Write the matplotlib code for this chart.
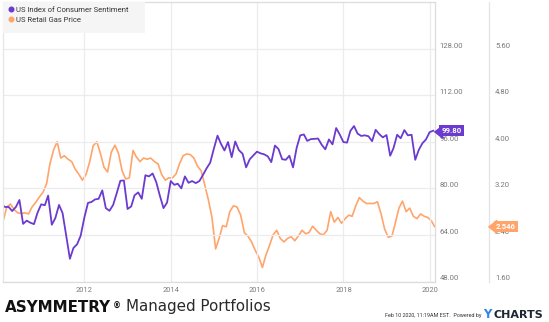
import matplotlib
matplotlib.use("Agg")
import matplotlib.pyplot as plt
import matplotlib.transforms as mtransforms
from matplotlib.lines import Line2D
from matplotlib.patches import Rectangle
import pandas as pd
import datetime as dt

# ---------------- data ----------------
sentiment_labels = "US Index of Consumer Sentiment"
gas_label = "US Retail Gas Price"

# University of Michigan consumer sentiment, monthly (Jan 2010 .. Jan 2020)
sentiment = [
    74.4, 73.6, 73.6, 72.2, 73.6, 76.0, 67.8, 68.9, 68.2, 67.7, 71.6, 74.5,   # 2010
    74.2, 77.5, 67.5, 69.8, 74.3, 71.5, 63.7, 55.8, 59.5, 60.8, 63.7, 69.9,   # 2011
    75.0, 75.3, 76.2, 76.4, 79.3, 73.2, 72.3, 74.3, 78.3, 82.6, 82.7, 72.9,   # 2012
    73.8, 77.6, 78.6, 76.4, 84.5, 84.1, 85.1, 82.1, 77.5, 73.2, 75.1, 82.5,   # 2013
    81.2, 81.6, 80.0, 84.1, 81.9, 82.5, 81.8, 82.5, 84.6, 86.9, 88.8, 93.6,   # 2014
    98.1, 95.4, 93.0, 95.9, 90.7, 96.1, 93.1, 91.9, 87.2, 90.0, 91.3, 92.6,   # 2015
    92.0, 91.7, 91.0, 89.0, 94.7, 93.5, 90.0, 89.8, 91.2, 87.2, 93.8, 98.2,   # 2016
    98.5, 96.3, 96.9, 97.0, 97.1, 95.0, 93.4, 96.8, 95.1, 100.7, 98.5, 95.9,  # 2017
    95.7, 99.7, 101.4, 98.8, 98.0, 98.2, 97.9, 96.2, 100.1, 98.6, 97.5, 98.3, # 2018
    91.2, 93.8, 98.4, 97.2, 100.0, 98.2, 98.4, 89.8, 93.2, 95.5, 96.8, 99.3,  # 2019
    99.8,                                                                     # 2020
]
sentiment_dates = pd.date_range("2010-01-31", periods=len(sentiment), freq="ME")

# US retail gas price (all grades), mid-month (Jan 2010 .. Jan 2020)
gas = [
    2.74, 2.66, 2.88, 2.93, 2.84, 2.78, 2.77, 2.78, 2.76, 2.88, 2.96, 3.05,   # 2010
    3.13, 3.28, 3.62, 3.86, 4.00, 3.72, 3.76, 3.70, 3.66, 3.53, 3.44, 3.34,   # 2011
    3.44, 3.66, 3.93, 4.00, 3.80, 3.56, 3.48, 3.82, 3.94, 3.80, 3.50, 3.36,   # 2012
    3.38, 3.85, 3.74, 3.66, 3.72, 3.70, 3.72, 3.66, 3.62, 3.44, 3.34, 3.38,   # 2013
    3.38, 3.45, 3.62, 3.76, 3.79, 3.78, 3.72, 3.58, 3.50, 3.26, 3.00, 2.70,   # 2014
    2.16, 2.35, 2.56, 2.54, 2.80, 2.90, 2.88, 2.74, 2.44, 2.38, 2.28, 2.14,   # 2015
    2.02, 1.84, 2.05, 2.22, 2.40, 2.48, 2.34, 2.28, 2.34, 2.37, 2.30, 2.38,   # 2016
    2.48, 2.42, 2.44, 2.55, 2.48, 2.42, 2.40, 2.48, 2.80, 2.62, 2.70, 2.60,   # 2017
    2.68, 2.74, 2.72, 2.90, 3.04, 2.98, 2.94, 2.94, 2.94, 2.97, 2.76, 2.50,   # 2018
    2.36, 2.38, 2.60, 2.86, 2.98, 2.80, 2.86, 2.72, 2.68, 2.76, 2.72, 2.70,   # 2019
    2.64,                                                                     # 2020
]
gas_last = 2.546
gas_dates = list(pd.date_range("2010-01-01", periods=len(gas), freq="MS") + pd.Timedelta(days=14))
gas_all = gas + [gas_last]
gas_dates_all = gas_dates + [pd.Timestamp("2020-02-10")]

left_ticks = [48, 64, 80, 96, 112, 128]
right_ticks = [1.60, 2.40, 3.20, 4.00, 4.80, 5.60]
year_ticks = [2012, 2014, 2016, 2018, 2020]

# ---------------- style ----------------
PURPLE = "#6b3ad0"
ORANGE = "#ffa46b"
GRID = "#ececec"
TICKC = "#7a7a7a"
FONT = "Roboto"

W, H = 549, 322
fig = plt.figure(figsize=(W / 100, H / 100), dpi=100)
fig.patch.set_facecolor("white")

ax_l, ax_r, ax_t, ax_b = 3, 434.5, 2, 281.5
ax = fig.add_axes([ax_l / W, 1 - ax_b / H, (ax_r - ax_l) / W, (ax_b - ax_t) / H])
ax2 = ax.twinx()

# gas price line (right scale)
ax2.plot(gas_dates_all, gas_all, color=ORANGE, lw=1.2, solid_joinstyle="round")
ax2.set_ylim(1.6, 6.4)
# sentiment line (left scale)
ax.plot(sentiment_dates, sentiment, color=PURPLE, lw=1.3, solid_joinstyle="round")
ax.set_ylim(48, 144)

ax.set_zorder(ax2.get_zorder() + 1)
ax.patch.set_visible(False)

ax.set_xlim(dt.datetime(2010, 2, 11), dt.datetime(2020, 2, 10))
ax.set_xticks([dt.datetime(y, 1, 1) for y in year_ticks])
ax.set_xticklabels([str(y) for y in year_ticks])
ax.tick_params(axis="x", length=0, pad=4, labelsize=5.4, labelcolor=TICKC)
for t in ax.get_xticklabels():
    t.set_fontfamily(FONT)

ax.grid(True, color=GRID, lw=0.9)
ax.set_axisbelow(True)

# sentiment ticks on the right, just outside plot
ax.yaxis.tick_right()
ax.set_yticks(left_ticks)
ax.set_yticklabels([f"{v:.2f}" for v in left_ticks])
ax.tick_params(axis="y", length=0, pad=3.5, labelsize=5.6, labelcolor=TICKC)
for t in ax.get_yticklabels():
    t.set_fontfamily(FONT)
    t.set_verticalalignment("bottom")

# gas ticks on an offset right axis
ax2.spines["right"].set_position(("axes", (489.5 - ax_l) / (ax_r - ax_l)))
ax2.spines["right"].set_color("#e4e4e4")
ax2.spines["right"].set_linewidth(0.9)
for s in ["top", "left", "bottom"]:
    ax2.spines[s].set_visible(False)
ax2.set_yticks(right_ticks)
ax2.set_yticklabels([f"{v:.2f}" for v in right_ticks])
ax2.tick_params(axis="y", length=0, pad=4, labelsize=5.6, labelcolor=TICKC)
for t in ax2.get_yticklabels():
    t.set_fontfamily(FONT)
    t.set_verticalalignment("bottom")

for s in ["top", "left", "bottom", "right"]:
    ax.spines[s].set_color("#dcdcdc")
    ax.spines[s].set_linewidth(0.9)
ax.spines["left"].set_color("#e6e6e6")

# legend
ax.add_patch(Rectangle((0, 1 - 31 / (ax_b - ax_t)), 142 / (ax_r - ax_l), 31 / (ax_b - ax_t),
                       transform=ax.transAxes, facecolor="#f5f5f5", edgecolor="none", zorder=5))
handles = [Line2D([], [], marker="o", ls="none", color=PURPLE, markersize=3.3),
           Line2D([], [], marker="o", ls="none", color=ORANGE, markersize=3.3)]
leg = ax.legend(handles, [sentiment_labels, gas_label], loc="upper left",
                bbox_to_anchor=(0, 1), borderaxespad=0.0, frameon=False,
                prop={"family": FONT, "size": 5.5}, labelcolor="#333333",
                handlelength=0.8, handletextpad=0.3, borderpad=0.6, labelspacing=0.45)
leg.set_zorder(6)

# end-value badges
def badge(axis, value, text, color, tip_dx_px):
    tr = axis.get_yaxis_transform() + mtransforms.ScaledTranslation(
        (tip_dx_px + 2.6) / 100, 0, fig.dpi_scale_trans)
    axis.plot([1], [value], transform=tr, marker=[(-1, 0), (1, -1.6), (1, 1.6)],
              markersize=9.5, color=color, clip_on=False, zorder=10)
    tr2 = axis.get_yaxis_transform() + mtransforms.ScaledTranslation(
        (tip_dx_px + 6.5) / 100, 0, fig.dpi_scale_trans)
    axis.text(1, value, text, transform=tr2, ha="left", va="center",
              color="white", fontsize=5.6, fontweight="bold", family=FONT, zorder=11,
              bbox=dict(boxstyle="square,pad=0.28", fc=color, ec="none"))

badge(ax, sentiment[-1], f"{sentiment[-1]:.2f}", PURPLE, 0.5)
badge(ax2, gas_last, f"{gas_last:.3f}", ORANGE, 489.5 - ax_r)

# footer
fig.text(5 / W, 1 - 311.5 / H, "ASYMMETRY", family="DejaVu Sans", weight="bold",
         fontsize=10.9, color="#111111", va="baseline", ha="left")
fig.text(113 / W, 1 - 308.5 / H, "®", family="DejaVu Sans", weight="bold",
         fontsize=5.8, color="#111111", va="baseline", ha="left")
fig.text(126 / W, 1 - 311.5 / H, "Managed Portfolios", family="DejaVu Sans",
         fontsize=10.9, color="#2a2a2a", va="baseline", ha="left")

fig.text(481 / W, 1 - 316.5 / H, "Feb 10 2020, 11:19AM EST.  Powered by", family=FONT,
         fontsize=3.9, color="#333333", va="baseline", ha="right")
fig.text(483 / W, 1 - 318 / H, "Y", family="DejaVu Sans", weight="bold",
         fontsize=8.6, color="#2f86e6", va="baseline", ha="left")
fig.text(493 / W, 1 - 318 / H, "CHARTS", family="DejaVu Sans", weight="bold",
         fontsize=8.0, color="#1d2633", va="baseline", ha="left")

fig.savefig("out.png", dpi=100, facecolor="white")
